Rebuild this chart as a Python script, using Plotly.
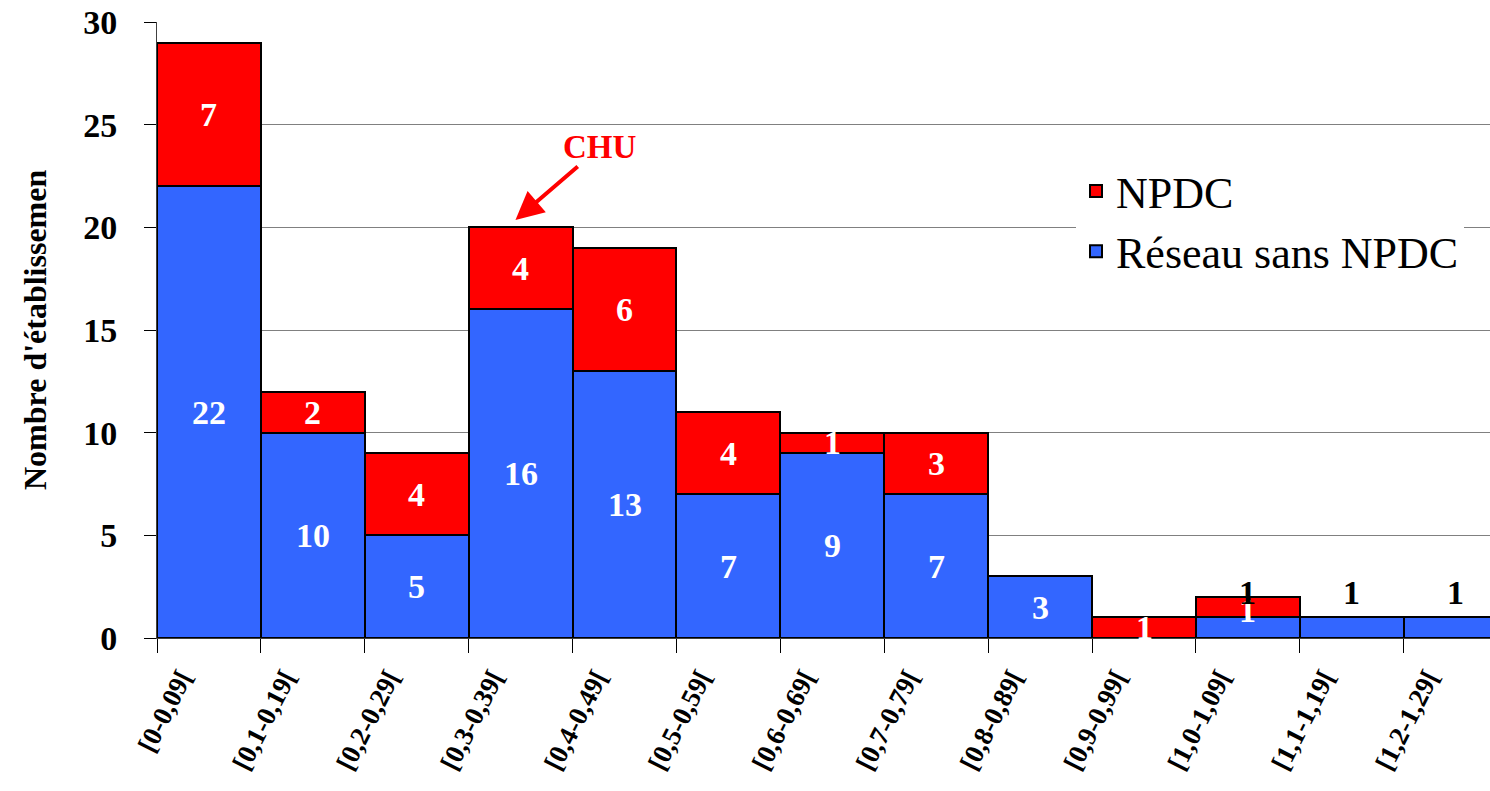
import plotly.graph_objects as go

# ---- data ----
categories = ["[0-0,09[", "[0,1-0,19[", "[0,2-0,29[", "[0,3-0,39[", "[0,4-0,49[",
              "[0,5-0,59[", "[0,6-0,69[", "[0,7-0,79[", "[0,8-0,89[", "[0,9-0,99[",
              "[1,0-1,09[", "[1,1-1,19[", "[1,2-1,29["]
reseau_sans_npdc = [22, 10, 5, 16, 13, 7, 9, 7, 3, 0, 1, 1, 1]
npdc = [7, 2, 4, 4, 6, 4, 1, 3, 0, 1, 1, 0, 0]
y_ticks = [0, 5, 10, 15, 20, 25, 30]
chu_category = "[0,3-0,39["

# ---- styles ----
BLUE = "#3366FF"
RED = "#FF0000"
SERIF = "Liberation Serif"
W, H = 1490, 791
M_L, M_R, M_T, M_B = 157, 0, 22, 153

fig = go.Figure()
fig.add_trace(go.Bar(
    x=categories, y=reseau_sans_npdc, name="Réseau sans NPDC",
    marker=dict(color=BLUE, line=dict(color="black", width=2)),
))
fig.add_trace(go.Bar(
    x=categories, y=npdc, name="NPDC",
    marker=dict(color=RED, line=dict(color="black", width=2)),
))

# data labels: centred in each segment (white), with a few exceptions placed
# as in the reference (offsets in value units, relative to the segment top)
label_font = dict(family=SERIF, size=34, color="white", weight="bold")
special = {
    ("b", 10): dict(dy=0.36, color="white"),
    ("b", 11): dict(dy=1.2, color="black"),
    ("b", 12): dict(dy=1.2, color="black"),
    ("r", 10): dict(dy=0.24, color="black"),
}
annotations = []
for i, cat in enumerate(categories):
    for key, base, val in (("b", 0, reseau_sans_npdc[i]), ("r", reseau_sans_npdc[i], npdc[i])):
        if not val:
            continue
        sp = special.get((key, i))
        if sp:
            y = base + val + sp["dy"]
            col = sp["color"]
        else:
            y = base + val / 2
            col = "white"
        annotations.append(dict(
            x=i, y=y, xref="x", yref="y", text=str(val), showarrow=False,
            font=dict(label_font, color=col), xanchor="center", yanchor="middle",
        ))

# CHU arrow
ci = categories.index(chu_category)
annotations.append(dict(
    x=ci - 0.05, y=reseau_sans_npdc[ci] + npdc[ci] + 0.36, xref="x", yref="y",
    text="CHU", showarrow=True, ax=85, ay=-73, axref="pixel", ayref="pixel",
    arrowcolor=RED, arrowwidth=4, arrowhead=2, arrowsize=1.4, standoff=0,
    font=dict(family=SERIF, size=33, color=RED, weight="bold"),
))

# y axis title
annotations.append(dict(
    x=(35 - M_L) / (W - M_L - M_R), y=0.5, xref="paper", yref="paper",
    text="Nombre d'établissemen", textangle=-90, showarrow=False,
    xanchor="center", yanchor="middle",
    font=dict(family=SERIF, size=32, color="black", weight="bold"),
))

fig.update_layout(
    width=W, height=H,
    margin=dict(l=M_L, r=M_R, t=M_T, b=M_B, pad=0, autoexpand=False),
    paper_bgcolor="white", plot_bgcolor="white",
    barmode="stack", bargap=0,
    annotations=annotations,
    showlegend=True,
    legend=dict(
        x=(1076 - M_L) / (W - M_L - M_R), y=(638 - 156) / (638 - 22),
        xanchor="left", yanchor="top", bgcolor="rgba(255,255,255,1)",
        font=dict(family=SERIF, size=44, color="black"),
        traceorder="reversed", itemwidth=30,
    ),
    xaxis=dict(
        type="category", range=[-0.5, 12.33], automargin=False,
        showgrid=False, showline=True, linecolor="#404040", linewidth=1,
        ticks="outside", tickson="boundaries", ticklen=14, tickcolor="black", tickwidth=1,
        tickangle=-63, ticklabelshift=-28, ticklabelstandoff=12,
        tickfont=dict(family=SERIF, size=27, color="black", weight="bold"),
    ),
    yaxis=dict(
        range=[0, 30], tickvals=y_ticks, automargin=False,
        showgrid=True, gridcolor="#808080", gridwidth=1,
        showline=True, linecolor="#404040", linewidth=1,
        ticks="outside", ticklen=12, tickcolor="black", tickwidth=1,
        ticklabelstandoff=20, zeroline=False,
        tickfont=dict(family=SERIF, size=34, color="black", weight="bold"),
    ),
)

fig.write_html("out.html")
